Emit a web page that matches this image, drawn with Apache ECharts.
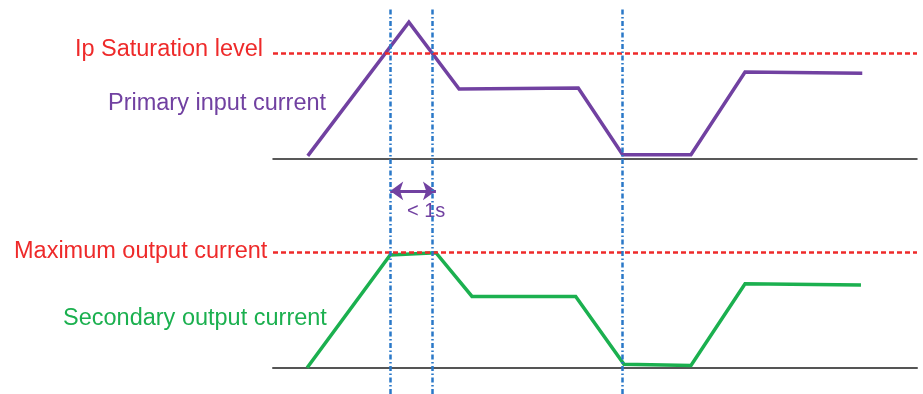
<!DOCTYPE html>
<html>
<head>
<meta charset="utf-8">
<style>
  html, body { margin: 0; padding: 0; background: #fff; }
  #chart { width: 923px; height: 394px; }
</style>
<script src="https://cdn.jsdelivr.net/npm/echarts@6/dist/echarts.min.js"></script>
</head>
<body>
<div id="chart"></div>
<script>
// Time axis is in arbitrary units (0..100); levels are relative to the limit (1.0).
var primaryTime = [5.4, 21.1, 28.9, 47.4, 54.3, 64.9, 73.3, 91.5];
var primaryLevel = [0.03, 1.29, 0.66, 0.67, 0.04, 0.04, 0.82, 0.81];
var secondaryTime = [5.3, 18.2, 25.3, 30.9, 47.0, 54.5, 64.9, 73.3, 91.3];
var secondaryLevel = [0.0, 0.98, 1.0, 0.62, 0.62, 0.03, 0.02, 0.73, 0.72];
var saturationLevel = 1.0;
var maxOutputLevel = 1.0;
var markerTimes = [18.2, 24.8, 54.3];
var durationSpan = [18.2, 25.3];
var durationLevel = 1.537;
var durationText = '< 1s';

var RED = '#ee2a2a', PURPLE = '#7141a1', GREEN = '#1bb04f', BLUE = '#2a78c8';
var FONT = '"Liberation Sans", Arial, sans-serif';
var LIMIT_STYLE = { color: RED, width: 2.5, type: [5, 3] };

function pairs(xs, ys) { return xs.map(function (x, i) { return [x, ys[i]]; }); }

var chart = echarts.init(document.getElementById('chart'), null, { renderer: 'canvas' });

function timeAxis(idx, showLine, color, width) {
  return {
    type: 'value', gridIndex: idx, min: 0, max: 100,
    axisLine: { show: showLine, onZero: true, lineStyle: { color: color, width: width } },
    axisTick: { show: false }, axisLabel: { show: false }, splitLine: { show: false }
  };
}
function levelAxis(idx, max) {
  return {
    type: 'value', gridIndex: idx, min: 0, max: max,
    axisLine: { show: false }, axisTick: { show: false },
    axisLabel: { show: false }, splitLine: { show: false }
  };
}

var option = {
  animation: false,
  backgroundColor: '#fff',
  grid: [
    { left: 273, right: 6, top: 0, bottom: 235 },
    { left: 273, right: 6, top: 183.7, bottom: 26.3 },
    { left: 273, right: 6, top: 9, bottom: 0 }
  ],
  xAxis: [
    timeAxis(0, true, '#222', 1.5),
    timeAxis(1, true, '#555', 2),
    timeAxis(2, false, '#000', 1)
  ],
  yAxis: [levelAxis(0, 1.5), levelAxis(1, 1.6), levelAxis(2, 1)],
  series: [
    {
      name: 'Primary input current', type: 'line',
      xAxisIndex: 0, yAxisIndex: 0,
      data: pairs(primaryTime, primaryLevel),
      symbol: 'none', clip: false,
      lineStyle: { color: PURPLE, width: 3.5, join: 'miter' },
      markLine: {
        silent: true, symbol: ['none', 'none'], label: { show: false },
        lineStyle: LIMIT_STYLE,
        data: [{ yAxis: saturationLevel }]
      }
    },
    {
      name: 'Secondary output current', type: 'line',
      xAxisIndex: 1, yAxisIndex: 1,
      data: pairs(secondaryTime, secondaryLevel),
      symbol: 'none', clip: false,
      lineStyle: { color: GREEN, width: 3.5, join: 'miter' },
      markLine: {
        silent: true, label: { show: false },
        data: [
          [
            { yAxis: maxOutputLevel, x: 273, symbol: 'none', lineStyle: LIMIT_STYLE },
            { yAxis: maxOutputLevel, x: 917, symbol: 'none' }
          ],
          [
            { coord: [durationSpan[0], durationLevel], symbol: 'arrow', symbolSize: [14, 13],
              lineStyle: { color: PURPLE, width: 3, type: 'solid' } },
            { coord: [durationSpan[1], durationLevel], symbol: 'arrow', symbolSize: [14, 13] }
          ]
        ]
      }
    },
    {
      name: 'markers', type: 'line',
      xAxisIndex: 2, yAxisIndex: 2, data: [], z: 5,
      markLine: {
        silent: true, symbol: ['none', 'none'], label: { show: false },
        lineStyle: { color: BLUE, width: 2.5, type: [5, 2.5, 1.5, 2.5] },
        data: markerTimes.map(function (t) { return { xAxis: t }; })
      }
    }
  ],
  graphic: [
    { type: 'text', x: 263, y: 50,
      style: { text: 'Ip Saturation level', fill: RED, font: '23.5px ' + FONT, align: 'right', verticalAlign: 'middle' } },
    { type: 'text', x: 108, y: 103.5,
      style: { text: 'Primary input current', fill: PURPLE, font: '23.5px ' + FONT, align: 'left', verticalAlign: 'middle' } },
    { type: 'text', x: 14, y: 252,
      style: { text: 'Maximum output current', fill: RED, font: '23.5px ' + FONT, align: 'left', verticalAlign: 'middle' } },
    { type: 'text', x: 63, y: 318.5,
      style: { text: 'Secondary output current', fill: GREEN, font: '23.5px ' + FONT, align: 'left', verticalAlign: 'middle' } },
    { type: 'text', x: 407, y: 211,
      style: { text: durationText, fill: PURPLE, font: '20px ' + FONT, align: 'left', verticalAlign: 'middle' } }
  ]
};

chart.setOption(option);
</script>
</body>
</html>
